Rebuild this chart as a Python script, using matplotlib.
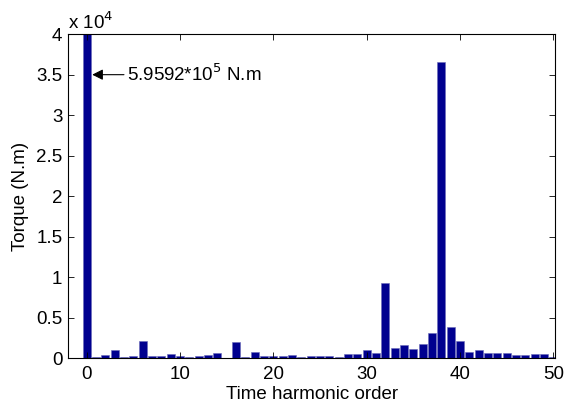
import matplotlib
matplotlib.use("Agg")
import matplotlib.pyplot as plt
import numpy as np

plt.rcParams['font.family'] = ['Liberation Sans', 'DejaVu Sans']

# harmonic order and torque amplitude (N.m)
order = np.arange(0, 51)
torque = [595920, 150, 370, 1000, 150, 290, 2100, 200, 200, 450,
          300, 150, 290, 400, 570, 60, 1980, 120, 780, 290,
          200, 250, 370, 170, 200, 290, 290, 170, 530, 450,
          1000, 620, 9280, 1230, 1560, 1150, 1690, 3090, 36600, 3830,
          2100, 740, 950, 620, 650, 620, 370, 370, 490, 490,
          150]

scale = 1e4
yticks = [0, 0.5, 1, 1.5, 2, 2.5, 3, 3.5, 4]
ytick_labels = ['0', '0.5', '1', '1.5', '2', '2.5', '3', '3.5', '4']
xticks = [0, 10, 20, 30, 40, 50]

fig = plt.figure(figsize=(5.66, 4.12), dpi=100)
ax = fig.add_axes([0.120, 0.131, 0.861, 0.786])

ax.bar(order, np.array(torque) / scale, width=0.86, color='#00008F',
       edgecolor='#6a6ab8', linewidth=0.4)

ax.set_xlim(-2, 50.2)
ax.set_ylim(0, 4)
ax.set_xticks(xticks)
ax.set_yticks(yticks)
ax.set_yticklabels(ytick_labels)
ax.tick_params(direction='in', top=True, right=True, labelsize=13.5,
               length=4, width=0.6)
ax.tick_params(axis='x', pad=6)
ax.tick_params(axis='y', pad=4)
for s in ax.spines.values():
    s.set_linewidth(0.8)

ax.set_xlabel('Time harmonic order', fontsize=13.5, labelpad=2)
ax.set_ylabel('Torque (N.m)', fontsize=13.5, labelpad=5)
ax.text(0.0, 1.003, r'x 10$^4$', transform=ax.transAxes, fontsize=13.5,
        ha='left', va='bottom')

ax.annotate(r'5.9592*10$^5$ N.m', xy=(0.6, 3.5), xytext=(4.3, 3.5),
            fontsize=13.5, va='center', ha='left',
            arrowprops=dict(arrowstyle='-|>', color='black', lw=0.8,
                            mutation_scale=16, shrinkA=0, shrinkB=0))

fig.savefig('out.png', dpi=100)
